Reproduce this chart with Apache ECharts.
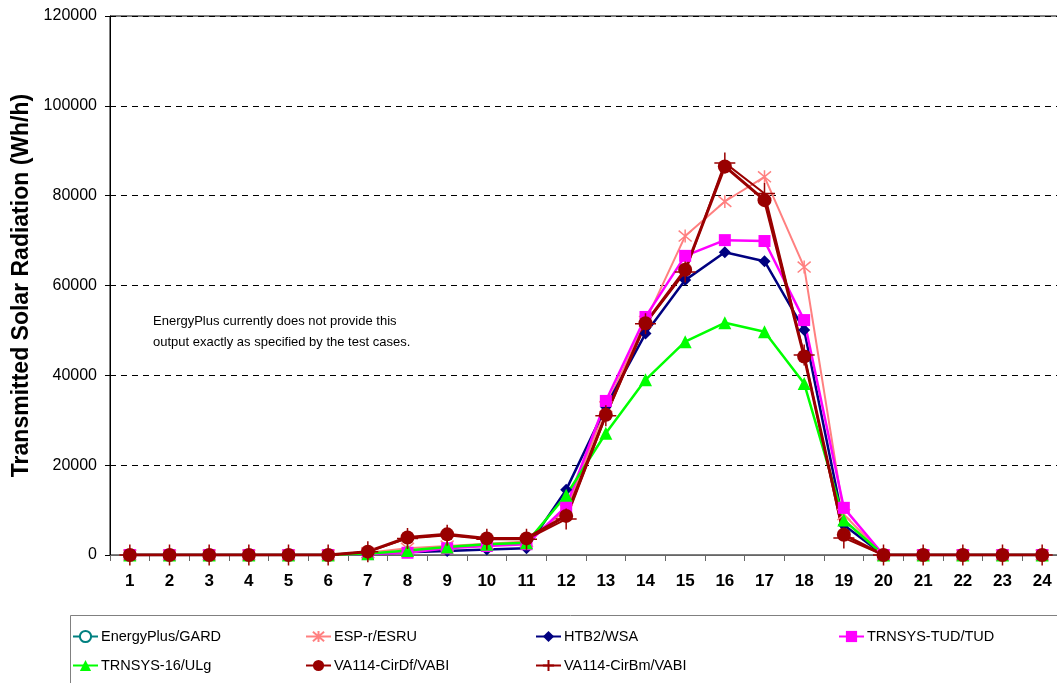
<!DOCTYPE html>
<html>
<head>
<meta charset="utf-8">
<script src="https://cdn.jsdelivr.net/npm/echarts@6/dist/echarts.min.js"></script>
<style>
  html, body { margin: 0; padding: 0; background: #fff; overflow: hidden; }
  #chart { width: 1080px; height: 683px; }
</style>
</head>
<body>
<div id="chart"></div>
<script>
// hours of the day
const hours = ['1','2','3','4','5','6','7','8','9','10','11','12','13','14','15','16','17','18','19','20','21','22','23','24'];

// transmitted solar radiation, Wh/h
const energyPlus = []; // no output for this case
const espr  = [0,0,0,0,0,0,500,1500,2000,2500,3000,10000,33000,52000,71000,78700,84200,64100,9000,0,0,0,0,0];
const htb2  = [0,0,0,0,0,0,200,600,900,1200,1500,14500,33000,49300,61200,67400,65400,50100,6700,0,0,0,0,0];
const tud   = [0,0,0,0,0,0,200,500,1500,2000,2400,10800,34300,53000,66600,70100,69900,52300,10500,0,0,0,0,0];
const ulg   = [0,0,0,0,0,0,300,1000,1800,2400,2700,13300,27100,39000,47500,51700,49700,38200,7800,0,0,0,0,0];
const cirDf = [0,0,0,0,0,0,750,3900,4600,3700,3700,8700,31200,51600,63500,86500,79000,44200,4500,0,0,0,0,0];
const cirBm = [0,0,0,0,0,0,700,3700,4400,3500,3500,8000,31000,51500,63000,87300,80500,44500,3800,0,0,0,0,0];

const yTicks = { min: 0, max: 120000, step: 20000 };

const font = 'Liberation Sans, Arial, sans-serif';

function lineSeries(name, data, color, symbol, size, width, extra) {
    return Object.assign({
        name: name,
        type: 'line',
        data: data,
        symbol: symbol,
        symbolSize: size,
        showAllSymbol: true,
        animation: false,
        itemStyle: { color: color },
        lineStyle: { color: color, width: width }
    }, extra || {});
}

const chart = echarts.init(document.getElementById('chart'));

chart.setOption({
    backgroundColor: '#fff',
    textStyle: { fontFamily: font },
    // plot area runs a little past the right edge of the window, as in the source
    grid: {
        left: 110, right: 18, top: 16, bottom: 128,
        containLabel: false, outerBoundsMode: 'none',
        show: true, borderColor: '#000', borderWidth: 1
    },
    xAxis: {
        type: 'category',
        data: hours,
        boundaryGap: true,
        axisLine: { lineStyle: { color: '#666', width: 1 } },
        axisTick: { show: true, length: 6, lineStyle: { color: '#666' } },
        axisLabel: { color: '#000', fontSize: 17, fontWeight: 'bold', margin: 18, fontFamily: font }
    },
    yAxis: {
        type: 'value',
        min: yTicks.min, max: yTicks.max, interval: yTicks.step,
        name: 'Transmitted Solar Radiation (Wh/h)',
        nameLocation: 'middle',
        nameGap: 77,
        nameTextStyle: { color: '#000', fontSize: 23, fontWeight: 'bold', fontFamily: font },
        axisLine: { show: true, lineStyle: { color: '#000' } },
        axisTick: { show: true, length: 5, lineStyle: { color: '#000' } },
        axisLabel: { color: '#000', fontSize: 16, margin: 13, fontFamily: font, formatter: v => String(v) },
        splitLine: { show: true, lineStyle: { color: '#000', type: [6, 5], width: 1 } }
    },
    legend: [
        { left: 72,  top: 629, orient: 'vertical', data: ['EnergyPlus/GARD', 'TRNSYS-16/ULg'] },
        { left: 305, top: 629, orient: 'vertical', data: ['ESP-r/ESRU', 'VA114-CirDf/VABI'] },
        { left: 535, top: 629, orient: 'vertical', data: ['HTB2/WSA', 'VA114-CirBm/VABI'] },
        { left: 838, top: 629, orient: 'vertical', data: ['TRNSYS-TUD/TUD'] }
    ].map(l => Object.assign(l, {
        itemWidth: 25, itemHeight: 14, itemGap: 14, padding: 0,
        selectedMode: false,
        textStyle: { color: '#000', fontSize: 14.5, fontFamily: font, padding: [0, 0, 0, -2] }
    })),
    graphic: [
        {
            type: 'rect', left: 68, top: 613, silent: true,
            shape: { width: 1000, height: 80 },
            style: { fill: 'none', stroke: '#808080', lineWidth: 1 }
        },
        {
            type: 'text', left: 153, top: 311, silent: true,
            style: {
                text: 'EnergyPlus currently does not provide this\noutput exactly as specified by the test cases.',
                font: '13px ' + font, fill: '#000', lineHeight: 21
            }
        }
    ],
    series: [
        lineSeries('EnergyPlus/GARD', energyPlus, '#008080', 'emptyCircle', 11, 2),
        lineSeries('ESP-r/ESRU', espr, '#FF8080', 'path://M0,0L10,10M10,0L0,10M5,-1L5,11', 13, 2, {
            itemStyle: { color: '#FF8080', borderColor: '#FF8080', borderWidth: 1.5 }
        }),
        lineSeries('HTB2/WSA', htb2, '#000080', 'diamond', 12, 2.5),
        lineSeries('TRNSYS-TUD/TUD', tud, '#FF00FF', 'rect', 12, 2.5),
        lineSeries('TRNSYS-16/ULg', ulg, '#00FF00', 'triangle', 13, 2.5),
        lineSeries('VA114-CirDf/VABI', cirDf, '#990000', 'circle', 14, 3),
        lineSeries('VA114-CirBm/VABI', cirBm, '#990000', 'path://M5,0L5,10M0,5L10,5', 21, 2, {
            itemStyle: { color: '#990000', borderColor: '#990000', borderWidth: 1.5 }
        })
    ]
});
</script>
</body>
</html>
